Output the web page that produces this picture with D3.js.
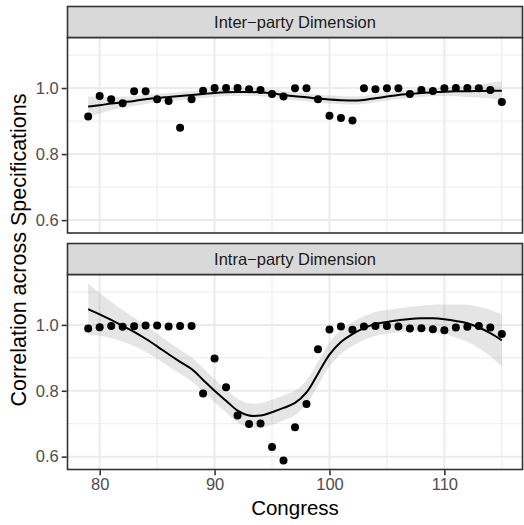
<!DOCTYPE html>
<html>
<head>
<meta charset="utf-8">
<script src="https://cdn.jsdelivr.net/npm/d3@7"></script>
<style>
  html, body { margin: 0; padding: 0; background: #fff; }
  svg { display: block; font-family: "Liberation Sans", Arial, sans-serif; }
</style>
</head>
<body>
<svg id="chart" width="524" height="525"></svg>
<script>
// Congresses covered by both series
const congress = d3.range(79, 116);

// Correlation of estimates across specifications, by congress
const interParty = [0.914, 0.976, 0.966, 0.954, 0.990, 0.990, 0.966, 0.961, 0.880, 0.966,
  0.992, 1.000, 1.000, 1.000, 0.996, 0.994, 0.982, 0.974, 0.999, 0.999,
  0.966, 0.916, 0.909, 0.902, 0.999, 0.996, 0.999, 0.999, 0.982, 0.994,
  0.991, 0.999, 1.000, 1.000, 0.999, 0.994, 0.958];
const intraParty = [0.989, 0.993, 0.997, 0.994, 0.996, 0.998, 0.998, 0.995, 0.997, 0.997,
  0.792, 0.898, 0.811, 0.725, 0.699, 0.701, 0.629, 0.588, 0.689, 0.760,
  0.926, 0.986, 0.995, 0.985, 0.995, 0.997, 0.997, 0.995, 0.989, 0.990,
  0.987, 0.984, 0.992, 0.994, 0.997, 0.992, 0.972];

// Loess fits and half-widths of their confidence bands, at each congress
const interFit = [0.944, 0.948, 0.953, 0.957, 0.961, 0.966, 0.970, 0.973, 0.976, 0.979,
  0.982, 0.985, 0.987, 0.988, 0.988, 0.987, 0.984, 0.979, 0.975, 0.972,
  0.968, 0.965, 0.963, 0.962, 0.964, 0.969, 0.974, 0.979, 0.982, 0.985,
  0.987, 0.989, 0.990, 0.990, 0.991, 0.992, 0.992];
const interSe = [0.031, 0.025, 0.020, 0.017, 0.015, 0.014, 0.013, 0.012, 0.012, 0.012,
  0.012, 0.012, 0.012, 0.012, 0.012, 0.012, 0.012, 0.012, 0.012, 0.012,
  0.012, 0.012, 0.012, 0.012, 0.012, 0.012, 0.012, 0.012, 0.012, 0.012,
  0.012, 0.013, 0.015, 0.017, 0.020, 0.024, 0.029];
const intraFit = [1.048, 1.032, 1.015, 0.997, 0.979, 0.958, 0.935, 0.911, 0.888, 0.866,
  0.833, 0.800, 0.770, 0.740, 0.725, 0.725, 0.735, 0.748, 0.763, 0.795,
  0.852, 0.910, 0.948, 0.972, 0.990, 1.003, 1.009, 1.014, 1.018, 1.020,
  1.020, 1.017, 1.012, 1.005, 0.992, 0.975, 0.953];
const intraSe = [0.078, 0.065, 0.055, 0.048, 0.043, 0.040, 0.038, 0.037, 0.036, 0.036,
  0.036, 0.035, 0.035, 0.036, 0.037, 0.038, 0.038, 0.038, 0.037, 0.036,
  0.036, 0.036, 0.036, 0.036, 0.036, 0.036, 0.036, 0.036, 0.037, 0.038,
  0.041, 0.045, 0.050, 0.056, 0.063, 0.070, 0.079];

const panelTitles = ["Inter\u2212party Dimension", "Intra\u2212party Dimension"];
const xTicks = [80, 90, 100, 110];
const xMinor = [85, 95, 105, 115];
const yTicks = [0.6, 0.8, 1.0];
const yMinor = [0.7, 0.9, 1.1];

const panels = [
  { title: panelTitles[0], values: interParty, fit: interFit, se: interSe },
  { title: panelTitles[1], values: intraParty, fit: intraFit, se: intraSe }
];

const svg = d3.select("#chart");
const left = 67.5, right = 522.5;
const stripH = 31;
const layout = [{ stripTop: 6.5, panelBottom: 233 }, { stripTop: 243.5, panelBottom: 469.5 }];

const x = d3.scaleLinear().domain([77.2, 116.8]).range([left, right]);

panels.forEach((p, i) => {
  const L = layout[i];
  const top = L.stripTop + stripH;
  const y = d3.scaleLinear().domain([0.561, 1.153]).range([L.panelBottom, top]);
  const g = svg.append("g");

  // panel background and grid
  g.append("rect").attr("x", left).attr("y", top).attr("width", right - left)
    .attr("height", L.panelBottom - top).attr("fill", "#fff");
  g.selectAll(".ymin").data(yMinor).join("line")
    .attr("x1", left).attr("x2", right).attr("y1", d => y(d)).attr("y2", d => y(d))
    .attr("stroke", "#EBEBEB").attr("stroke-width", 1);
  g.selectAll(".xmin").data(xMinor).join("line")
    .attr("y1", top).attr("y2", L.panelBottom).attr("x1", d => x(d)).attr("x2", d => x(d))
    .attr("stroke", "#EBEBEB").attr("stroke-width", 1);
  g.selectAll(".ymaj").data(yTicks).join("line")
    .attr("x1", left).attr("x2", right).attr("y1", d => y(d)).attr("y2", d => y(d))
    .attr("stroke", "#EBEBEB").attr("stroke-width", 2);
  g.selectAll(".xmaj").data(xTicks).join("line")
    .attr("y1", top).attr("y2", L.panelBottom).attr("x1", d => x(d)).attr("x2", d => x(d))
    .attr("stroke", "#EBEBEB").attr("stroke-width", 2);

  // confidence band and smooth
  const rows = congress.map((c, k) => ({ c, v: p.values[k], f: p.fit[k], s: p.se[k] }));
  g.append("path").datum(rows)
    .attr("d", d3.area().x(d => x(d.c)).y0(d => y(d.f - d.s)).y1(d => y(d.f + d.s))
      .curve(d3.curveCatmullRom))
    .attr("fill", "#999").attr("fill-opacity", 0.25);
  g.append("path").datum(rows)
    .attr("d", d3.line().x(d => x(d.c)).y(d => y(d.f)).curve(d3.curveCatmullRom))
    .attr("fill", "none").attr("stroke", "#000").attr("stroke-width", 2);

  // points
  g.selectAll("circle").data(rows).join("circle")
    .attr("cx", d => x(d.c)).attr("cy", d => y(d.v)).attr("r", 4)
    .attr("fill", "#000");

  // panel border
  g.append("rect").attr("x", left).attr("y", top).attr("width", right - left)
    .attr("height", L.panelBottom - top).attr("fill", "none")
    .attr("stroke", "#333").attr("stroke-width", 1.6);

  // strip
  g.append("rect").attr("x", left).attr("y", L.stripTop).attr("width", right - left)
    .attr("height", stripH).attr("fill", "#D9D9D9")
    .attr("stroke", "#333").attr("stroke-width", 1.6);
  g.append("text").attr("x", (left + right) / 2).attr("y", L.stripTop + stripH / 2)
    .attr("dy", "0.35em").attr("text-anchor", "middle")
    .attr("font-size", 16.5).attr("fill", "#1A1A1A").text(p.title);

  // y axis
  const yAxis = d3.axisLeft(y).tickValues(yTicks).tickFormat(d3.format(".1f"))
    .tickSize(5).tickPadding(3);
  const ya = g.append("g").attr("transform", `translate(${left - 0.8},0)`).call(yAxis);
  ya.select(".domain").remove();
  ya.selectAll(".tick line").attr("stroke", "#333").attr("stroke-width", 1.6);
  ya.selectAll(".tick text").attr("fill", "#4D4D4D").attr("font-size", 16.5)
    .attr("font-family", "Liberation Sans, Arial, sans-serif");

  if (i === 1) {
    const xAxis = d3.axisBottom(x).tickValues(xTicks).tickSize(5).tickPadding(3);
    const xa = g.append("g").attr("transform", `translate(0,${L.panelBottom + 0.8})`).call(xAxis);
    xa.select(".domain").remove();
    xa.selectAll(".tick line").attr("stroke", "#333").attr("stroke-width", 1.6);
    xa.selectAll(".tick text").attr("fill", "#4D4D4D").attr("font-size", 16.5)
      .attr("font-family", "Liberation Sans, Arial, sans-serif");
  }
});

// axis titles
svg.append("text").attr("x", (left + right) / 2).attr("y", 515)
  .attr("text-anchor", "middle").attr("font-size", 20.5).attr("fill", "#000")
  .text("Congress");
svg.append("text")
  .attr("transform", "translate(26,250) rotate(-90)")
  .attr("text-anchor", "middle").attr("font-size", 21.5).attr("fill", "#000")
  .text("Correlation across Specifications");
</script>
</body>
</html>
